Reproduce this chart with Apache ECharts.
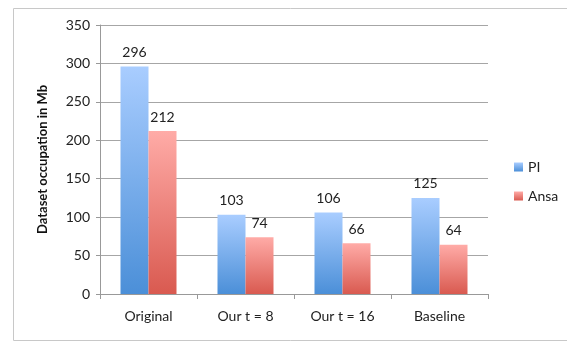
<!DOCTYPE html>
<html>
<head>
<meta charset="utf-8">
<script src="https://cdn.jsdelivr.net/npm/echarts@6/dist/echarts.min.js"></script>
<style>
html,body{margin:0;padding:0;background:#fff;}
#main{width:567px;height:343px;}
</style>
</head>
<body>
<div id="main"></div>
<script>
var categories = ["Original", "Our t = 8", "Our t = 16", "Baseline"];
var piValues = [296, 103, 106, 125];
var ansaValues = [212, 74, 66, 64];
var yTicks = [0, 50, 100, 150, 200, 250, 300, 350];

var chart = echarts.init(document.getElementById("main"));

function grad(top, bottom) {
	return new echarts.graphic.LinearGradient(0, 0, 0, 1, [
		{ offset: 0, color: top },
		{ offset: 1, color: bottom }
	]);
}

var font = "Lato, 'Open Sans', sans-serif";

option = {
	animation: false,
	textStyle: { fontFamily: font },
	graphic: [{
		type: 'rect',
		shape: { x: 13.5, y: 8.5, width: 600, height: 332 },
		style: { fill: 'none', stroke: '#c8c8c8', lineWidth: 1 },
		silent: true
	}],
	grid: {
		left: 100,
		right: 79,
		top: 25,
		bottom: 49
	},
	legend: {
		orient: 'vertical',
		left: 509,
		top: 155,
		itemWidth: 9,
		itemHeight: 9,
		itemGap: 15,
		icon: 'rect',
		textStyle: { fontFamily: font, fontSize: 14, color: '#222' },
		data: ['PI', 'Ansa']
	},
	xAxis: [{
		type: 'category',
		data: categories,
		axisLine: { lineStyle: { color: '#999', width: 1 } },
		axisTick: { show: true, length: 5, lineStyle: { color: '#999' } },
		axisLabel: { color: '#222', fontSize: 14, margin: 15, fontFamily: font }
	}],
	yAxis: [{
		type: 'value',
		min: yTicks[0],
		max: yTicks[yTicks.length - 1],
		interval: 50,
		name: 'Dataset occupation in Mb',
		nameLocation: 'middle',
		nameGap: 51,
		nameTextStyle: { color: '#111', fontSize: 13, fontWeight: 'bold', fontFamily: font },
		axisLine: { show: true, lineStyle: { color: '#999', width: 1 } },
		axisTick: { show: true, length: 4, lineStyle: { color: '#999' } },
		axisLabel: { color: '#222', fontSize: 14, margin: 10, fontFamily: font },
		splitLine: { lineStyle: { color: '#a6a6a6', width: 1 } }
	}],
	series: [
		{
			name: 'PI',
			type: 'bar',
			data: piValues,
			barWidth: 28,
			barGap: '0%',
			itemStyle: { color: grad('#a9cdff', '#4b8fd8') },
			label: { show: true, position: 'top', distance: 7, color: '#222', fontSize: 14, fontFamily: font }
		},
		{
			name: 'Ansa',
			type: 'bar',
			data: ansaValues,
			barWidth: 28,
			barGap: '0%',
			itemStyle: { color: grad('#ffaba7', '#d95a50') },
			label: { show: true, position: 'top', distance: 7, color: '#222', fontSize: 14, fontFamily: font }
		}
	]
};

chart.setOption(option);
</script>
</body>
</html>
